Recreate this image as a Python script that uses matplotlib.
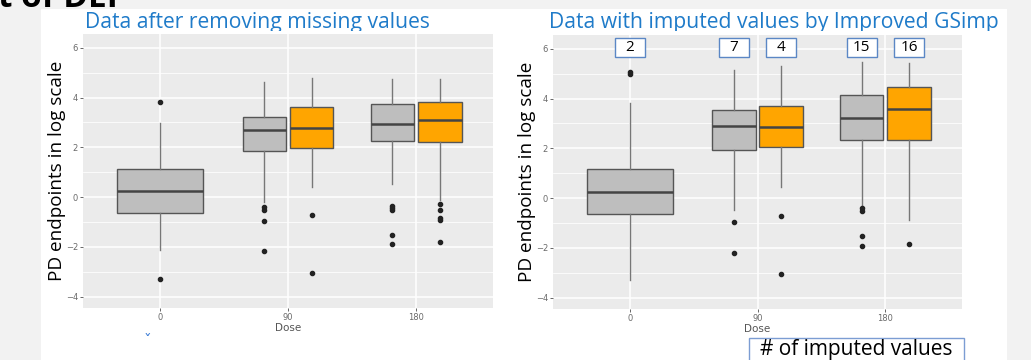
import matplotlib
matplotlib.use("Agg")
import matplotlib.pyplot as plt
from matplotlib.patches import Rectangle
from matplotlib.transforms import Bbox

W, H = 1031, 360

doses = ["0", "90", "180"]
# each box: (dose index, group 0=gray / 1=orange)
box_keys = [(0, 0), (1, 0), (1, 1), (2, 0), (2, 1)]

# left panel: data after removing missing values
left_q1 = [-0.63, 1.85, 1.97, 2.25, 2.20]
left_med = [0.24, 2.69, 2.77, 2.94, 3.08]
left_q3 = [1.15, 3.22, 3.60, 3.73, 3.82]
left_lo = [-2.13, -0.20, 0.42, 0.53, -0.11]
left_hi = [2.98, 4.62, 4.80, 4.73, 4.73]
left_out = [[3.82, -3.28],
            [-0.41, -0.51, -0.95, -2.18],
            [-0.72, -3.04],
            [-0.34, -0.42, -0.51, -1.51, -1.90],
            [-0.29, -0.52, -0.84, -0.91, -1.82]]

# right panel: data with imputed values
right_q1 = [-0.63, 1.93, 2.05, 2.34, 2.32]
right_med = [0.25, 2.88, 2.85, 3.21, 3.59]
right_q3 = [1.19, 3.55, 3.71, 4.16, 4.47]
right_lo = [-3.27, -0.48, 0.43, -0.33, -0.88]
right_hi = [3.83, 5.14, 5.30, 5.47, 5.41]
right_out = [[5.07, 4.97],
             [-0.96, -2.20],
             [-0.72, -3.05],
             [-0.41, -0.52, -1.51, -1.92],
             [-1.85]]
n_imputed = [2, 7, 4, 15, 16]

fill_colors = ["#BEBEBE", "#FFA500"]


def fig_rect(x0, y0, x1, y1):
    return [x0 / W, 1 - y1 / H, (x1 - x0) / W, (y1 - y0) / H]


def positions():
    pos, widths = [], []
    for d, g in box_keys:
        if d == 0:
            pos.append(d + 1)
            widths.append(0.675)
        else:
            pos.append(d + 1 + (0.185 if g else -0.185))
            widths.append(0.34)
    return pos, widths


def draw_panel(ax, q1, med, q3, lo, hi, out):
    ax.set_facecolor("#EBEBEB")
    for s in ax.spines.values():
        s.set_visible(False)
    ax.set_xlim(0.4, 3.6)
    ax.set_ylim(-4.45, 6.55)
    ax.set_yticks([-4, -2, 0, 2, 4, 6])
    ax.set_yticks([-3, -1, 1, 3, 5], minor=True)
    ax.set_xticks([1, 2, 3])
    ax.set_xticklabels(doses)
    ax.grid(True, which="major", color="white", lw=1.1, zorder=0)
    ax.grid(True, which="minor", axis="y", color="white", lw=0.55, zorder=0)
    ax.set_axisbelow(True)
    ax.tick_params(which="major", length=2, width=0.6, color="#4D4D4D",
                   labelsize=6, labelcolor="#6A6A6A", pad=1.5)
    ax.tick_params(which="minor", length=0)
    ax.set_xlabel("Dose", fontsize=7.5, color="#555555", labelpad=1)

    pos, widths = positions()
    stats = []
    for i in range(len(box_keys)):
        stats.append(dict(q1=q1[i], med=med[i], q3=q3[i], whislo=lo[i],
                          whishi=hi[i], fliers=out[i]))
    bp = ax.bxp(stats, positions=pos, widths=widths, patch_artist=True,
                showcaps=False, manage_ticks=False,
                boxprops=dict(edgecolor="#555555", lw=1.0),
                medianprops=dict(color="#444444", lw=1.8),
                whiskerprops=dict(color="#777777", lw=1.0),
                flierprops=dict(marker="o", markersize=3, markerfacecolor="#222222",
                                markeredgecolor="#222222"))
    for patch, (d, g) in zip(bp["boxes"], box_keys):
        patch.set_facecolor(fill_colors[g])
        patch.set_zorder(2)
    ax.set_ylabel("PD endpoints in log scale", fontsize=13.6, color="black",
                  family=["Open Sans", "DejaVu Sans"], labelpad=0)
    return pos


fig = plt.figure(figsize=(W / 100, H / 100), dpi=100)
fig.patch.set_facecolor("#F2F2F2")

# white slide image area
fig.patches.append(Rectangle((41 / W, 0), (1007 - 41) / W, 1 - 9 / H,
                             transform=fig.transFigure, facecolor="white",
                             edgecolor="none", zorder=-5))

# cut-off slide heading at the very top
head = fig.text(-2 / W, 1 - 7 / H, "t of DEI", fontsize=24, fontweight="bold",
                family=["Open Sans", "DejaVu Sans"], color="black", va="baseline")
head.set_clip_box(fig.transFigure.transform_bbox(Bbox.from_extents(0, 1 - 9 / H, 1, 1)))
head.set_clip_on(True)

ax1 = fig.add_axes(fig_rect(83, 34, 493, 308))
draw_panel(ax1, left_q1, left_med, left_q3, left_lo, left_hi, left_out)

ax2 = fig.add_axes(fig_rect(553, 35, 962, 309))
pos2 = draw_panel(ax2, right_q1, right_med, right_q3, right_lo, right_hi, right_out)

# number of imputed values above each box
for x, n in zip(pos2, n_imputed):
    ax2.add_patch(Rectangle((x - 0.118, 5.68), 0.236, 0.76, facecolor="white",
                            edgecolor="#5B87C5", lw=1.0, zorder=5, clip_on=False))
    ax2.text(x, 6.06, str(n), ha="center", va="center", fontsize=11,
             family=["Open Sans", "DejaVu Sans"], color="black", zorder=6)

# panel titles (bottoms hidden behind the chart image)
clip = Bbox.from_extents(0, 1 - 31 / H, 1, 1)
for x, t in [(85, "Data after removing missing values"),
             (549, "Data with imputed values by Improved GSimp")]:
    txt = fig.text(x / W, 1 - 28 / H, t, fontsize=15.2, color="#1F7BC9",
                   family=["Open Sans", "DejaVu Sans"], va="baseline")
    txt.set_clip_box(fig.transFigure.transform_bbox(clip))
    txt.set_clip_on(True)

# stray fragment of slide text under the left chart
fig.text(147 / W, 1 - 341 / H, "ˇ", fontsize=11, color="#3A7BD5",
         ha="center", va="center")

# caption box at the bottom
fig.patches.append(Rectangle((749 / W, -0.05), (964 - 749) / W, 0.05 + 1 - 338 / H,
                             transform=fig.transFigure, facecolor="white",
                             edgecolor="#7C9DD3", lw=1.0, zorder=3))
fig.text(856 / W, 1 - 350 / H, "# of imputed values", fontsize=15,
         family=["Open Sans", "DejaVu Sans"], color="black",
         ha="center", va="center", zorder=4)

fig.savefig("out.png", dpi=100, facecolor=fig.get_facecolor())
